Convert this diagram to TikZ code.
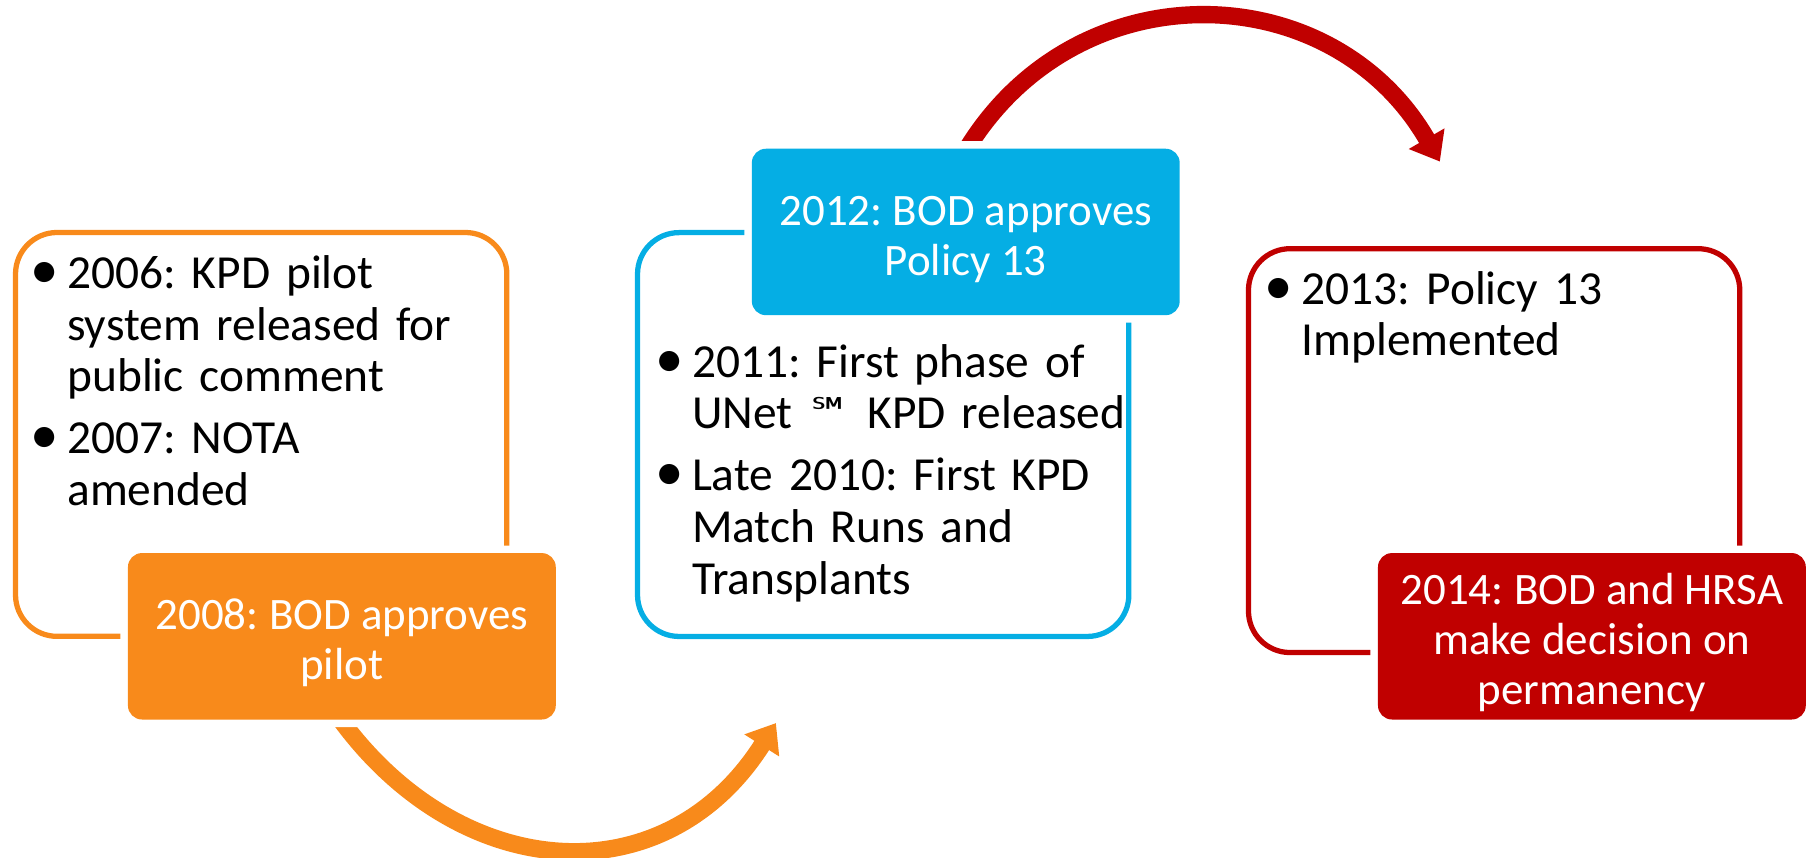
\documentclass[tikz,border=0pt]{standalone}
\usepackage{graphicx}
\usepackage{fontspec}
\setmainfont{Carlito}
\newfontfamily\symfont{DejaVu Sans}[Scale=0.9]
\usetikzlibrary{arrows.meta}
\definecolor{kpdorange}{RGB}{248,138,27}
\definecolor{kpdblue}{RGB}{5,174,228}
\definecolor{kpdred}{RGB}{192,0,0}
\newcommand\bitem{\setlength{\parskip}{5.6pt}\noindent\hangindent=0.68em\hangafter=1\makebox[0.68em][l]{\hspace{-0.1em}\scalebox{1.2}{\textbullet}}}
\tikzset{
	roundframe/.style={draw=#1, line width=3pt, rounded corners=0.83cm, minimum width=9.83cm, minimum height=8.08cm, inner sep=0pt},
	phase/.style={fill=#1, rounded corners=0.28cm, preaction={draw=white, line width=0.3cm}, minimum width=8.56cm, minimum height=3.33cm, inner sep=0pt, text=white, align=center, font=\fontsize{25.6pt}{28.5pt}\selectfont\frenchspacing},
	itemtext/.style={anchor=base west, inner sep=0pt, text width=10cm, font=\fontsize{27pt}{29.5pt}\selectfont\frenchspacing},
	bendarrow/.style={draw=#1, line width=0.347cm, -{Triangle[length=0.53cm, width=0.79cm]}}
}
\begin{document}
\begin{tikzpicture}[x=0.02314cm, y=-0.02314cm]
			\useasboundingbox (0,0) rectangle (1568,741);
			\coordinate (otail) at (290,616);
			\coordinate (ohead) at (670.7,625);
			\coordinate (rtail) at (832,135);
			\coordinate (rhead) at (1244.6,139.7);
			\draw [bendarrow=kpdorange] (otail) .. controls (393.9,764.2) and (573.9,777.9) .. (ohead);
			\draw [bendarrow=kpdred] (rtail) .. controls (926,-28.2) and (1150.4,-23.5) .. (rhead);
			\node [roundframe=kpdorange] (oframe) at (225.75,375.5) {};
			\node [roundframe=kpdblue] (bframe) at (763.4,375.6) {};
			\node [roundframe=kpdred] (rframe) at (1291.5,389.5) {};
			\node [phase=kpdorange] (ofill) at (295.5,550) {\rule{0pt}{25pt}2008: BOD approves\\pilot};
			\node [phase=kpdblue] (bfill) at (834.8,200.5) {\rule{0pt}{25pt}2012: BOD approves\\Policy 13};
			\node [phase=kpdred] (rfill) at (1376,550) {\rule{0pt}{25pt}2014: BOD and HRSA\\make decision on\\permanency};
			\node [itemtext] (otext) at (30,249.2) {\bitem 2006: KPD pilot\newline system released for\newline public comment\par
				\bitem 2007: NOTA\newline amended\par};
			\node [itemtext] (btext) at (570,326) {\bitem 2011: First phase of\newline UNet {\symfont ℠} KPD released\par
				\bitem Late 2010: First KPD\newline Match Runs and\newline Transplants\par};
			\node [itemtext] (rtext) at (1097,262.8) {\bitem 2013: Policy 13\newline Implemented\par};
		\end{tikzpicture}
\end{document}
